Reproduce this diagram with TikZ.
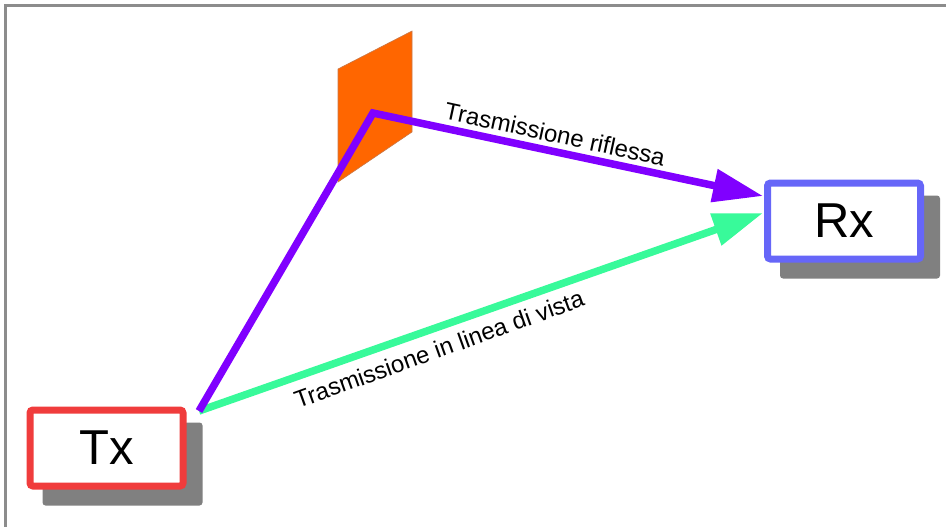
\documentclass[tikz,border=0pt]{standalone}
\usepackage{fontspec}
\setmainfont{Liberation Sans}
\usetikzlibrary{arrows.meta,backgrounds}

\definecolor{txred}{HTML}{F03C3C}
\definecolor{rxblue}{HTML}{6666F8}
\definecolor{raypurple}{HTML}{8000FF}
\definecolor{raygreen}{HTML}{38FA9A}
\definecolor{mirrororange}{HTML}{FF6600}
\definecolor{mirroredge}{HTML}{C8784A}
\definecolor{shadowgray}{HTML}{808080}
\definecolor{framegray}{HTML}{8C8C8C}

\tikzset{
  station/.style={draw=#1, line width=7pt, fill=white, rounded corners=3pt,
    minimum width=153pt, minimum height=76pt, inner sep=0pt,
    font=\fontsize{49}{57}\selectfont},
  boxshadow/.style={fill=shadowgray, rounded corners=3pt},
  ray/.style={line width=7.5pt, draw=#1, line join=miter,
    -{Triangle[length=50pt,width=32pt]}},
  raylabel/.style={font=\fontsize{24}{28}\selectfont, inner sep=0pt},
}

\begin{document}
\begin{tikzpicture}[x=1pt,y=-1pt]
  \useasboundingbox (0,0) rectangle (946,527);

  % frame lines along the top and left edges
  \draw[framegray, line width=2.5pt] (5.5,527) -- (5.5,5.5) -- (946,5.5);

  % reflecting surface
  \filldraw[fill=mirrororange, draw=mirroredge, line width=0.6pt]
    (338,69) -- (412,31) -- (412,132) -- (338,182) -- cycle;

  % transmitter and receiver
  \node[station=txred] (tx) at (106.5,448) {Tx};
  \node[station=rxblue] (rx) at (844,221) {Rx};

  \begin{scope}[on background layer]
    \fill[boxshadow] ([shift={(16,16)}]tx.north west) rectangle ([shift={(16,16)}]tx.south east);
    \fill[boxshadow] ([shift={(16,16)}]rx.north west) rectangle ([shift={(16,16)}]rx.south east);
  \end{scope}

  % ray end points
  \coordinate (txport) at (199,411);
  \coordinate (bounce) at (373,113);
  \coordinate (tipref) at (763,196);
  \coordinate (tipdir) at (763,213);

  % direct path
  \draw[ray=raygreen] (txport) -- (tipdir);
  % reflected path
  \draw[ray=raypurple] (txport) -- (bounce) -- (tipref);

  % labels
  \node[raylabel, rotate=-12.2] (lblref) at (555,134) {Trasmissione riflessa};
  \node[raylabel, rotate=19.8] (lbldir) at (439,349) {Trasmissione in linea di vista};
\end{tikzpicture}
\end{document}
